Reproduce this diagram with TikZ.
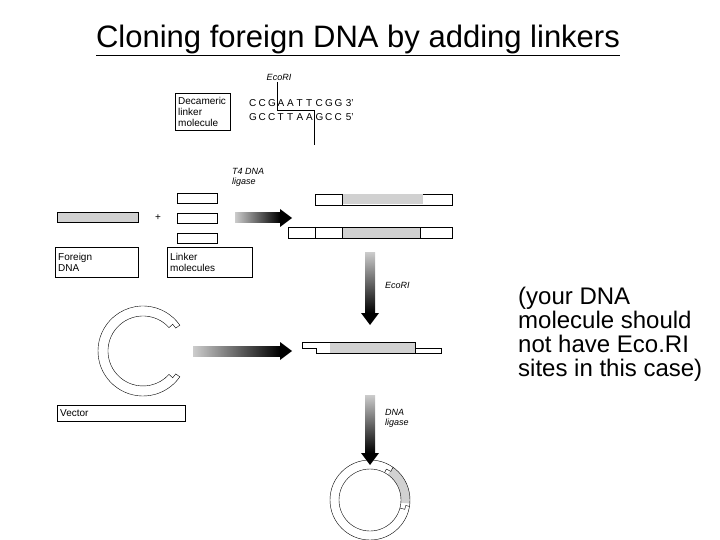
\documentclass[tikz,border=0pt]{standalone}
\usepackage{fontspec}
\setmainfont{Liberation Sans}
\usetikzlibrary{positioning,calc}
\definecolor{dnagray}{rgb}{0.82,0.82,0.82}
\newcommand{\bp}[1]{\makebox[9.5pt][l]{#1}}
\begin{document}
\begin{tikzpicture}[x=1pt,y=-1pt,>=stealth]
    \tikzstyle{lbl}=[rectangle,draw=black,thin,font=\fontsize{10}{11}\selectfont,inner sep=3pt,align=left,anchor=north west]
    \tikzstyle{txt}=[font=\fontsize{9}{10}\selectfont\itshape,align=left,anchor=west,inner sep=0pt]
    \tikzstyle{seq}=[font=\fontsize{10}{11}\selectfont,anchor=west,inner sep=0pt]
    \tikzstyle{seg}=[draw=black,thin,fill=white]
    \tikzstyle{ins}=[draw=black,thin,fill=dnagray]

    \useasboundingbox (0,0) rectangle (720,540);

    % title
    \node[font=\fontsize{31}{36}\selectfont](title) at (358,40){\underline{Cloning foreign DNA by adding linkers}};

    % linker sequence
    \node[lbl,text width=49pt,minimum height=37pt](deca) at (175,93){Decameric\\linker\\molecule};
    \node[seq](top) at (249,103){\bp C\bp C\bp G\bp A\bp A\bp T\bp T\bp C\bp G\bp G\,3'};
    \node[seq](bot) at (249,117){\bp G\bp C\bp C\bp T\bp T\bp A\bp A\bp G\bp C\bp C\,5'};
    \node[txt,anchor=south](eco) at (279,81){EcoRI};
    \draw[thin] (277,82) |- (314,110) -- (314,145);

    % linkers and foreign DNA
    \node[txt](t4) at (232,177){T4 DNA\\ligase};
    \foreach \y/\n in {193/la,213/lb,233/lc}
        \draw[seg] (177,\y) rectangle (217,\y+10) coordinate (\n);
    \draw[ins] (57,212) rectangle (138,222);
    \node(plus) at (158,218){\fontsize{10}{11}\selectfont +};
    \node[lbl,text width=77pt,minimum height=30pt](foreign) at (55,247){Foreign\\DNA};
    \node[lbl,text width=79pt,minimum height=30pt](linker) at (167,247){Linker\\molecules};

    % ligated products
    \draw[seg] (315,194) rectangle (452,205);
    \draw[ins,draw=none] (342,194.5) rectangle (423,204.5);
    \draw[thin] (342,194) -- (342,205);
    \draw[seg] (288,227) rectangle (452,238);
    \draw[ins] (342,227) rectangle (420,238);
    \draw[thin] (315,227) -- (315,238);

    % vector
    \begin{scope}[shift={(143,351)}]
        \draw[thin,fill=white] (35:45) arc (35:325:45) -- (325:40) -- (318:40) -- (318:35)
            arc (318:42:35) -- (42:40) -- (35:40) -- cycle;
    \end{scope}
    \node[lbl,text width=122pt,minimum height=16pt,inner sep=3pt](vector) at (57,405){Vector};

    % cut product
    \draw[ins,draw=none] (330,342) rectangle (415,353);
    \draw[thin] (302,342) -- (415,342) -- (415,348) -- (441,348) -- (441,353)
        -- (316,353) -- (316,348) -- (302,348) -- cycle;
    \draw[thin] (415,348) -- (415,353);
    \node[txt](ecob) at (385,285){EcoRI};
    \node[txt](lig) at (385,418){DNA\\ligase};

    % recombinant
    \coordinate (rc) at (370,500);
    \fill[dnagray] (rc) ++(-55:40) arc (-55:5:40) -- ++(185:9) arc (5:-55:31) -- cycle;
    \draw[thin] (rc) circle (40);
    \draw[thin] (rc) circle (31);
    \draw[thin] (rc) ++(15:31) -- ++(15:5) -- ++(-75:4) -- ++(15:4);
    \draw[thin] (rc) ++(-62:31) -- ++(-62:4) -- ++(28:5) -- ++(-62:5);

    % shaded arrows
    \foreach \a/\b in {235/218,193/351}{
        \shade[left color=white!60!gray,right color=black] (\a,\b-5) rectangle (280,\b+5);
        \fill[black] (280,\b-9) -- (292,\b) -- (280,\b+9) -- cycle;}
    \foreach \a/\b in {252/325,395/465}{
        \shade[top color=white!60!gray,bottom color=black] (365,\a) rectangle (375,\b-12);
        \fill[black] (361,\b-12) -- (370,\b) -- (379,\b-12) -- cycle;}

    % note
    \node[font=\fontsize{24}{24}\selectfont,align=left,anchor=north west,inner sep=0pt](note) at (518,287){(your DNA\\molecule should\\not have Eco.RI\\sites in this case)};
\end{tikzpicture}
\end{document}
